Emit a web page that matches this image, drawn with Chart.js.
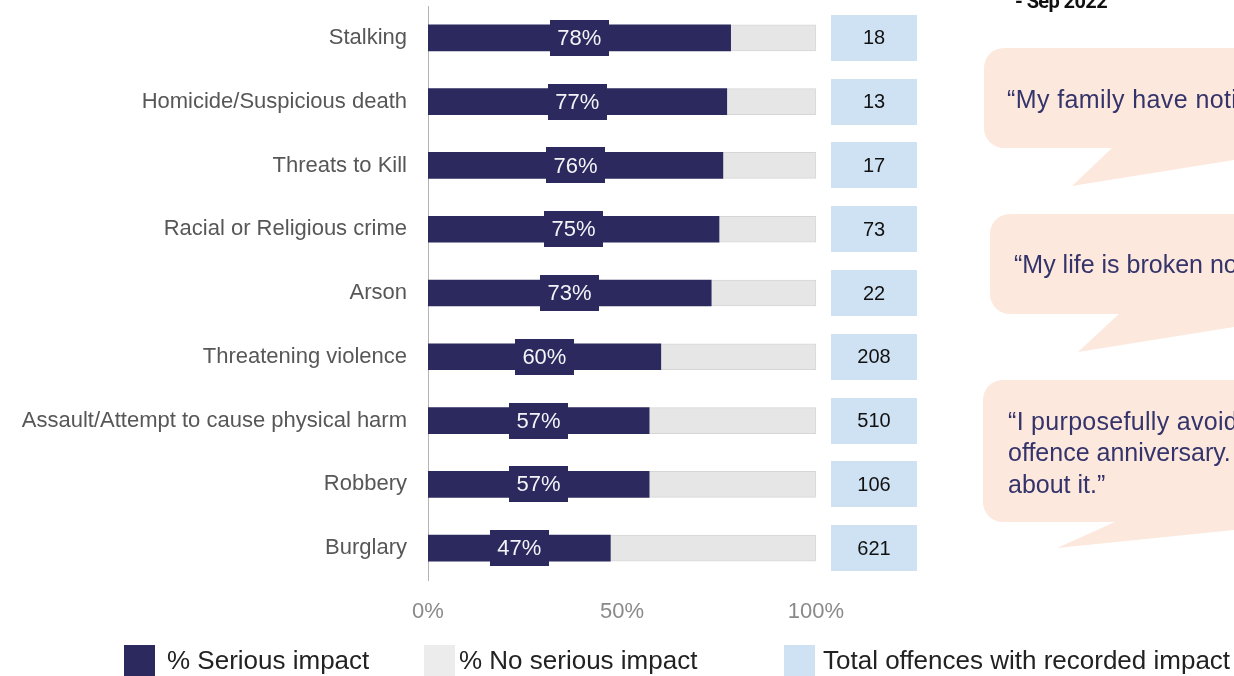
<!DOCTYPE html>
<html>
<head>
<meta charset="utf-8">
<script src="https://cdn.jsdelivr.net/npm/chart.js@4.4.1/dist/chart.umd.min.js"></script>
<style>
  html, body { margin: 0; padding: 0; background: #fff; overflow: hidden; }
  body { width: 1234px; height: 676px; position: relative; font-family: "Liberation Sans", Arial, sans-serif; }
  #impactChart { position: absolute; left: 0; top: 0; }
  .overlay { position: absolute; left: 0; top: 0; }
  .date-note { position: absolute; left: 1015px; top: -11px; font: bold 20px Roboto, sans-serif; letter-spacing: -0.6px; color: #111; white-space: nowrap; }
  .legend-item { position: absolute; top: 645px; height: 31px; display: flex; align-items: center; white-space: nowrap; font-size: 26px; color: #222; }
  .legend-item span.sw { display: inline-block; width: 31px; height: 31px; margin-right: 12px; }
</style>
</head>
<body>
<canvas id="impactChart" width="1234" height="676"></canvas>

<svg class="overlay" width="1234" height="676" font-family="Liberation Sans, Arial, sans-serif" font-size="25" fill="#34346a">
  <g fill="#fde8de">
    <rect x="984" y="48" width="300" height="100" rx="20"/>
    <polygon points="1113,147 1072,186 1234,160 1234,147"/>
    <rect x="990" y="214" width="300" height="100" rx="20"/>
    <polygon points="1120,313 1078,352 1234,327 1234,313"/>
    <rect x="983" y="380" width="300" height="142" rx="20"/>
    <polygon points="1117,521 1057,548 1234,530 1234,521"/>
  </g>
  <text x="1007" y="108" letter-spacing="0.4">“My family have noticed</text>
  <text x="1014" y="273">“My life is broken now</text>
  <text x="1008" y="430" letter-spacing="0.3">“I purposefully avoid</text>
  <text x="1008" y="461">offence anniversary.</text>
  <text x="1008" y="493">about it.”</text>
</svg>

<div class="date-note">- Sep 2022</div>

<div class="legend-item" style="left:124px"><span class="sw" style="background:#2b295e"></span>% Serious impact</div>
<div class="legend-item" style="left:424px"><span class="sw" style="background:#ececec;margin-right:4px"></span>% No serious impact</div>
<div class="legend-item" style="left:784px"><span class="sw" style="background:#cfe2f3;margin-right:8px"></span>Total offences with recorded impact</div>

<script>
const categories = [
  'Stalking',
  'Homicide/Suspicious death',
  'Threats to Kill',
  'Racial or Religious crime',
  'Arson',
  'Threatening violence',
  'Assault/Attempt to cause physical harm',
  'Robbery',
  'Burglary'
];
const seriousPct = [78, 77, 76, 75, 73, 60, 57, 57, 47];
const noSeriousPct = [22, 23, 24, 25, 27, 40, 43, 43, 53];
const totalOffences = [18, 13, 17, 73, 22, 208, 510, 106, 621];
const xTicks = [0, 50, 100];

const NAVY = '#2b295e';
const FONT = '"Liberation Sans", Arial, sans-serif';

// percentage label sitting on a navy tab in the middle of each serious bar
const barLabels = {
  id: 'barLabels',
  afterDatasetsDraw(chart) {
    const ctx = chart.ctx;
    const meta = chart.getDatasetMeta(0);
    ctx.save();
    ctx.font = '22px ' + FONT;
    ctx.textAlign = 'center';
    ctx.textBaseline = 'middle';
    meta.data.forEach((bar, i) => {
      const cx = (bar.x + bar.base) / 2;
      ctx.fillStyle = NAVY;
      ctx.fillRect(Math.round(cx - 29.5), Math.round(bar.y - 18), 59, 36);
      ctx.fillStyle = '#f4f4f8';
      ctx.fillText(seriousPct[i] + '%', cx, bar.y + 1);
    });
    ctx.restore();
  }
};

// column of light blue count boxes to the right of the bars
const countBoxes = {
  id: 'countBoxes',
  afterDatasetsDraw(chart) {
    const ctx = chart.ctx;
    const yScale = chart.scales.y;
    ctx.save();
    ctx.font = '20px ' + FONT;
    ctx.textAlign = 'center';
    ctx.textBaseline = 'middle';
    totalOffences.forEach((n, i) => {
      const cy = yScale.getPixelForValue(i);
      ctx.fillStyle = '#cfe2f3';
      ctx.fillRect(831, Math.round(cy - 23), 86, 46);
      ctx.fillStyle = '#111';
      ctx.fillText(String(n), 874, cy + 1);
    });
    ctx.restore();
  }
};

new Chart(document.getElementById('impactChart'), {
  type: 'bar',
  data: {
    labels: categories,
    datasets: [
      {
        label: '% Serious impact',
        data: seriousPct,
        backgroundColor: NAVY,
        barThickness: 26
      },
      {
        label: '% No serious impact',
        data: noSeriousPct,
        backgroundColor: '#e6e6e6',
        borderColor: '#d6d6d6',
        borderWidth: 1,
        borderSkipped: 'left',
        barThickness: 26
      }
    ]
  },
  options: {
    indexAxis: 'y',
    responsive: false,
    animation: false,
    layout: { padding: { left: 0, right: 418, top: 6, bottom: 0 } },
    scales: {
      x: {
        stacked: true,
        min: 0,
        max: 100,
        afterBuildTicks: (scale) => { scale.ticks = xTicks.map((v) => ({ value: v })); },
        afterFit: (scale) => {
          scale.height = 96;
          scale.paddingLeft = 0;
          scale.paddingRight = 0;
        },
        grid: { display: false, drawTicks: false },
        border: { display: false },
        ticks: {
          padding: 19,
          color: '#8a8a8a',
          font: { size: 22, family: FONT },
          callback: (v) => v + '%'
        }
      },
      y: {
        stacked: true,
        afterFit: (scale) => {
          scale.width = 428;
          scale.paddingTop = 0;
          scale.paddingBottom = 0;
        },
        grid: { display: false, drawTicks: false },
        border: { display: true, color: '#b4b4b4', width: 1 },
        ticks: {
          padding: 21,
          color: '#575757',
          font: { size: 22, family: FONT }
        }
      }
    },
    plugins: {
      legend: { display: false },
      tooltip: { enabled: false }
    }
  },
  plugins: [barLabels, countBoxes]
});
</script>
</body>
</html>
